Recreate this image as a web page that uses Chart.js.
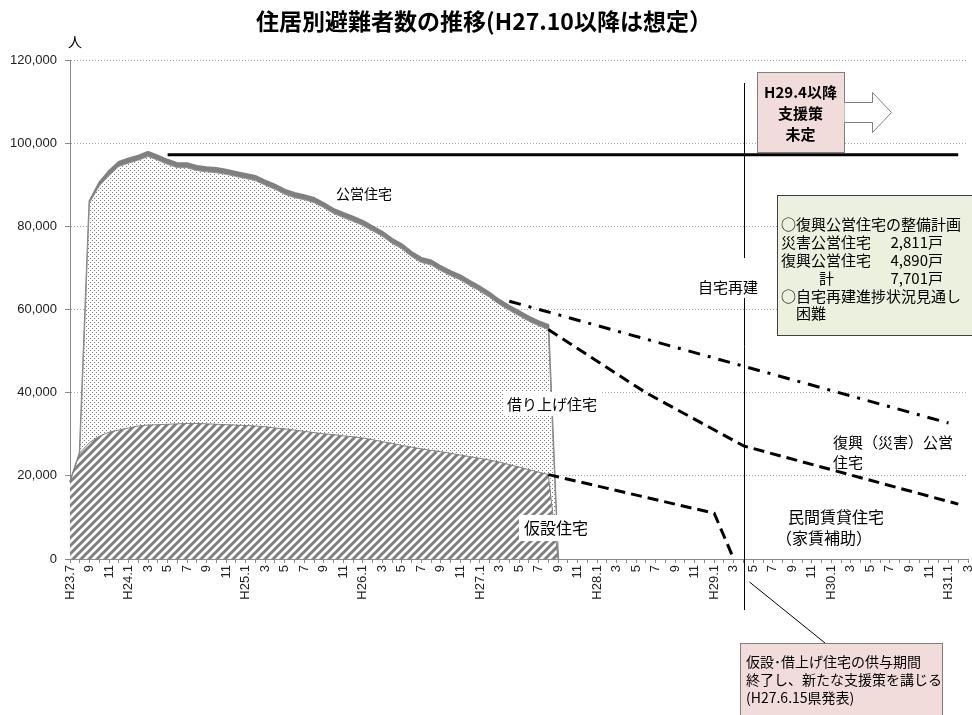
<!DOCTYPE html>
<html lang="ja">
<head>
  <meta charset="UTF-8">
  <title>住居別避難者数の推移</title>
  <script src="https://cdn.jsdelivr.net/npm/chart.js@4"></script>
  <style>
    body { margin: 0; background: #fff; }
    canvas { display: block; }
  </style>
</head>
<body>
  <canvas id="suii" width="972" height="715"></canvas>

  <script>
    // 月 (H23.7〜H31.3)
    const tsuki = [
      'H23.7', '8', '9', '10', '11', '12',
      'H24.1', '2', '3', '4', '5', '6', '7', '8', '9', '10', '11', '12',
      'H25.1', '2', '3', '4', '5', '6', '7', '8', '9', '10', '11', '12',
      'H26.1', '2', '3', '4', '5', '6', '7', '8', '9', '10', '11', '12',
      'H27.1', '2', '3', '4', '5', '6', '7', '8', '9', '10', '11', '12',
      'H28.1', '2', '3', '4', '5', '6', '7', '8', '9', '10', '11', '12',
      'H29.1', '2', '3', '4', '5', '6', '7', '8', '9', '10', '11', '12',
      'H30.1', '2', '3', '4', '5', '6', '7', '8', '9', '10', '11', '12',
      'H31.1', '2', '3'
    ];

    // 実績 (H23.7〜H27.9, 人)
    const kasetsu = [
      18500, 25500, 28000, 29500, 30500, 31000, 31500, 32000, 32200, 32300,
      32400, 32500, 32600, 32600, 32500, 32400, 32300, 32200, 32100, 32000,
      31800, 31500, 31300, 31000, 30700, 30400, 30100, 29900, 29600, 29400,
      29100, 28700, 28200, 27800, 27300, 26900, 26500, 26100, 25800, 25400,
      25000, 24600, 24200, 23800, 23300, 22700, 22100, 21500, 20900, 20300,
      0
    ];
    const kariage = [
      0, 0, 57700, 60200, 61700, 63400, 63700, 63900, 64600, 63600,
      62500, 61600, 61500, 60800, 60600, 60500, 60200, 59800, 59400, 59000,
      58100, 57400, 56400, 55900, 55700, 55300, 54400, 53200, 52500, 51800,
      51100, 50200, 49400, 48100, 47300, 45800, 44800, 44600, 43500, 42700,
      42100, 41100, 40200, 39100, 37900, 37100, 36400, 35700, 35200, 34900,
      0
    ];
    const kouei = [
      0, 0, 300, 800, 1100, 1100, 1100, 1100, 1100, 1100,
      1100, 1100, 1100, 1100, 1100, 1100, 1100, 1100, 1100, 1100,
      1100, 1100, 1100, 1100, 1100, 1100, 1100, 1100, 1100, 1100,
      1100, 1100, 1100, 1100, 1100, 1100, 1100, 1100, 1100, 1100,
      1100, 1100, 1100, 1100, 1100, 1100, 1100, 1100, 1100, 1100,
      0
    ];

    // 想定 ([月の番号, 人])
    const mitoshiKouei = [[45, 62000], [90, 32700]];
    const mitoshiMinkan = [[49, 55200], [59, 40000], [69, 27200], [91, 13200]];
    const mitoshiKasetsu = [[49, 20300], [66, 11000], [68, 0]];
    const peakSen = [[10, 97200], [91, 97200]];

    const H29_4 = 69; // 供与期間終了

    const JP = '"Noto Sans CJK JP", sans-serif';

    // 月の並びに合わせて null で埋める
    function narabe(pts) {
      const a = tsuki.map(() => null);
      pts.forEach(([i, v]) => { a[i] = v; });
      return a;
    }

    // 借り上げ住宅の点々模様
    function tenMoyou() {
      const c = document.createElement('canvas');
      c.width = 4; c.height = 4;
      const g = c.getContext('2d');
      g.fillStyle = '#fff';
      g.fillRect(0, 0, 4, 4);
      g.fillStyle = '#808080';
      g.fillRect(0, 0, 1, 1);
      g.fillRect(2, 2, 1, 1);
      return g.createPattern(c, 'repeat');
    }

    // 仮設住宅の斜線模様
    function shasenMoyou() {
      const s = 8;
      const c = document.createElement('canvas');
      c.width = s; c.height = s;
      const g = c.getContext('2d');
      g.fillStyle = '#fff';
      g.fillRect(0, 0, s, s);
      g.strokeStyle = '#7f7f7f';
      g.lineWidth = 3;
      g.beginPath();
      g.moveTo(0, s); g.lineTo(s, 0);
      g.moveTo(-s / 2, s / 2); g.lineTo(s / 2, -s / 2);
      g.moveTo(s / 2, s * 1.5); g.lineTo(s * 1.5, s / 2);
      g.stroke();
      return g.createPattern(c, 'repeat');
    }

    function moji(ctx, s, x, y, size, opt = {}) {
      ctx.font = (opt.bold ? 'bold ' : '') + size + 'px ' + JP;
      ctx.fillStyle = '#000';
      ctx.textAlign = opt.align || 'left';
      ctx.textBaseline = 'middle';
      ctx.fillText(s, x, y);
    }

    function shiro(ctx, x, y, w, h) {
      ctx.fillStyle = '#fff';
      ctx.fillRect(x, y, w, h);
    }

    function waku(ctx, x, y, w, h, fill, line) {
      ctx.fillStyle = fill;
      ctx.fillRect(x, y, w, h);
      ctx.strokeStyle = line;
      ctx.lineWidth = 1;
      ctx.strokeRect(x + 0.5, y + 0.5, w, h);
    }

    // 注記・吹き出し
    const chuki = {
      id: 'chuki',
      afterDraw(chart) {
        const { ctx, scales: { x } } = chart;
        const xv = Math.round(x.getPixelForValue(H29_4)) + 0.5;
        ctx.save();

        // H29.4 の縦線
        ctx.strokeStyle = '#000';
        ctx.lineWidth = 1;
        ctx.beginPath();
        ctx.moveTo(xv, 83);
        ctx.lineTo(xv, 610);
        ctx.stroke();

        // 系列名
        moji(ctx, '公営住宅', 336, 194, 14);
        shiro(ctx, 503, 392, 98, 24);
        moji(ctx, '借り上げ住宅', 507, 404, 15);
        shiro(ctx, 519, 515, 76, 26);
        moji(ctx, '仮設住宅', 524, 528, 16);
        shiro(ctx, 692, 258, 72, 40);
        moji(ctx, '自宅再建', 728, 287, 15, { align: 'center' });
        moji(ctx, '復興（災害）公営', 833, 442, 15);
        moji(ctx, '住宅', 833, 462, 15);
        moji(ctx, '民間賃貸住宅', 788, 517, 16);
        moji(ctx, '（家賃補助）', 776, 538, 16);

        // H29.4以降 支援策未定
        waku(ctx, 757, 72, 87, 80, '#f2dcdb', '#7f7f7f');
        moji(ctx, 'H29.4以降', 800.5, 92, 15, { align: 'center', bold: true });
        moji(ctx, '支援策', 800.5, 113, 15, { align: 'center', bold: true });
        moji(ctx, '未定', 800.5, 134, 15, { align: 'center', bold: true });
        ctx.beginPath();
        ctx.moveTo(844.5, 102.5);
        ctx.lineTo(872.5, 102.5);
        ctx.lineTo(872.5, 92.5);
        ctx.lineTo(891.5, 112.5);
        ctx.lineTo(872.5, 132.5);
        ctx.lineTo(872.5, 122.5);
        ctx.lineTo(844.5, 122.5);
        ctx.fillStyle = '#fff';
        ctx.fill();
        ctx.strokeStyle = '#7f7f7f';
        ctx.stroke();

        // 整備計画
        waku(ctx, 777, 195, 210, 140, '#ebf1de', '#404040');
        moji(ctx, '○復興公営住宅の整備計画', 781, 224, 15);
        moji(ctx, '災害公営住宅', 781, 242, 15);
        moji(ctx, '2,811戸', 943, 242, 15, { align: 'right' });
        moji(ctx, '復興公営住宅', 781, 260, 15);
        moji(ctx, '4,890戸', 943, 260, 15, { align: 'right' });
        moji(ctx, '計', 819, 278, 15);
        moji(ctx, '7,701戸', 943, 278, 15, { align: 'right' });
        moji(ctx, '○自宅再建進捗状況見通し', 781, 296, 15);
        moji(ctx, '困難', 796, 313, 15);

        // 供与期間終了の吹き出し
        ctx.strokeStyle = '#000';
        ctx.lineWidth = 1;
        ctx.beginPath();
        ctx.moveTo(xv + 5, 582);
        ctx.lineTo(825, 643);
        ctx.stroke();
        waku(ctx, 740, 643, 202, 80, '#f2dcdb', '#7f7f7f');
        moji(ctx, '仮設･借上げ住宅の供与期間', 746, 662, 14);
        moji(ctx, '終了し、新たな支援策を講じる', 746, 680, 14);
        moji(ctx, '(H27.6.15県発表)', 746, 698, 14);

        // 単位
        moji(ctx, '人', 75, 42, 14, { align: 'center' });
        ctx.restore();
      }
    };

    const ctx = document.getElementById('suii').getContext('2d');

    const sen = (data, dash, stack) => ({
      data: narabe(data),
      stack: stack,
      fill: false,
      spanGaps: true,
      borderColor: '#000',
      borderWidth: 3,
      borderDash: dash,
      order: -1
    });

    new Chart(ctx, {
      type: 'line',
      data: {
        labels: tsuki,
        datasets: [
          {
            label: '仮設住宅',
            data: kasetsu,
            stack: 'jukyo',
            fill: 'origin',
            backgroundColor: shasenMoyou(),
            borderColor: '#808080',
            borderWidth: 1
          },
          {
            label: '借り上げ住宅',
            data: kariage,
            stack: 'jukyo',
            fill: '-1',
            backgroundColor: tenMoyou(),
            borderColor: '#909090',
            borderWidth: 1
          },
          {
            label: '公営住宅',
            data: kouei,
            stack: 'jukyo',
            fill: '-1',
            backgroundColor: '#808080',
            borderColor: '#808080',
            borderWidth: 2
          },
          sen(mitoshiKouei, [12, 8, 3, 8], 'a'),
          sen(mitoshiMinkan, [11, 6], 'b'),
          sen(mitoshiKasetsu, [11, 6], 'c'),
          sen(peakSen, [], 'd')
        ]
      },
      options: {
        responsive: false,
        animation: false,
        devicePixelRatio: 1,
        layout: { padding: { left: 0, right: 4, top: 0, bottom: 0 } },
        elements: {
          point: { radius: 0 },
          line: { tension: 0 }
        },
        plugins: {
          legend: { display: false },
          tooltip: { enabled: false },
          title: {
            display: true,
            text: '住居別避難者数の推移(H27.10以降は想定）',
            color: '#000',
            font: { family: JP, size: 23, weight: 'bold' },
            padding: { top: 7, bottom: 25.4 }
          }
        },
        scales: {
          x: {
            offset: false,
            grid: { drawOnChartArea: false, drawTicks: true, tickLength: 4, color: '#8a8a8a' },
            border: { color: '#8a8a8a' },
            ticks: {
              autoSkip: false,
              minRotation: 90,
              maxRotation: 90,
              padding: 2,
              color: '#222',
              font: { family: '"Liberation Sans", sans-serif', size: 13 },
              callback: (v, i) => (i % 2 === 0 ? tsuki[i] : '')
            },
            afterFit: (s) => {
              s.height = 156;
              s.paddingLeft = 0;
              s.paddingRight = 0;
            }
          },
          y: {
            stacked: true,
            min: 0,
            max: 120000,
            grid: { color: '#a6a6a6', tickLength: 5, tickColor: '#8a8a8a' },
            border: { color: '#8a8a8a', dash: [1, 2] },
            ticks: {
              stepSize: 20000,
              padding: 8,
              color: '#222',
              font: { family: '"Liberation Sans", sans-serif', size: 13 },
              callback: (v) => v.toLocaleString('en-US')
            },
            afterFit: (s) => { s.width = 70; }
          }
        }
      },
      plugins: [chuki]
    });
  </script>
</body>
</html>
